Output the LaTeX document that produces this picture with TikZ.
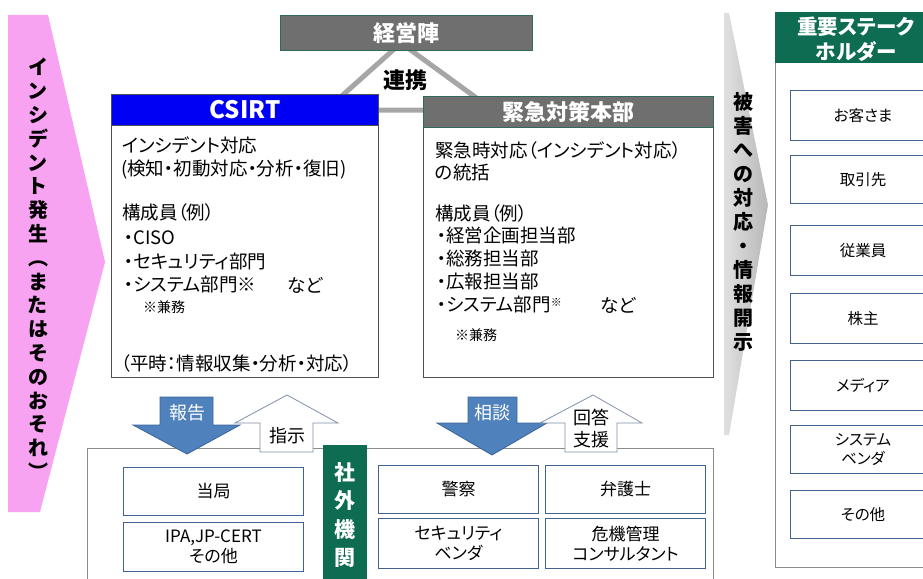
\documentclass[tikz,border=0pt]{standalone}
\usepackage{fontspec}
\setmainfont{Noto Sans CJK JP}[RawFeature=+palt]
\definecolor{pinkfill}{HTML}{F8A2F2}
\definecolor{linkgray}{HTML}{A6A6A6}
\definecolor{mgmtgray}{HTML}{6F6F6F}
\definecolor{tealborder}{HTML}{2E6B5E}
\definecolor{csirtblue}{HTML}{0000F5}
\definecolor{darkgreen}{HTML}{0D6C52}
\definecolor{boxblue}{HTML}{42628F}
\definecolor{arrowblue}{HTML}{4F81BD}
\definecolor{arrowedge}{HTML}{3A6499}
\definecolor{upedge}{HTML}{7F8FA6}
\definecolor{framegray}{HTML}{8C8C8C}
\definecolor{bodyedge}{HTML}{505050}
\begin{document}
\begin{tikzpicture}[x=1pt,y=-1pt,
  hdr/.style={font=\bfseries\fontsize{22}{25}\selectfont, text=white, inner sep=0pt, align=center},
  bodytxt/.style={font=\fontsize{18.5}{22}\selectfont, anchor=west, inner sep=0pt},
  notetxt/.style={font=\fontsize{14}{16}\selectfont, anchor=west, inner sep=0pt},
  sbox/.style={draw=boxblue, line width=1pt, fill=white, anchor=north west, inner sep=0pt, align=center, font=\fontsize{17}{20}\selectfont},
  stbox/.style={sbox, font=\fontsize{15.5}{19}\selectfont},
  vtext/.style={align=center, inner sep=0pt},
  bigbox/.style={draw=bodyedge, line width=1pt, fill=white, anchor=north west, inner sep=0pt},
  downarrow/.style={fill=arrowblue, draw=arrowedge, line width=0.8pt},
  uparrow/.style={fill=white, draw=upedge, line width=0.8pt},
  linkline/.style={draw=linkgray, line width=5pt},
  arrowtxt/.style={font=\fontsize{18}{22}\selectfont, inner sep=0pt, align=center},
]
\useasboundingbox (0,0) rectangle (923,578);
\clip (0,0) rectangle (923,578);

% pink incident arrow
\fill[pinkfill] (8,15) -- (48,15) -- (105,262) -- (40,512) -- (8,512) -- cycle;
\node[vtext, font=\bfseries\fontsize{20}{23.8}\selectfont] (incident) at (38,269)
  {イ\\ン\\シ\\デ\\ン\\ト\\発\\生\\︵\\ま\\た\\は\\そ\\の\\お\\そ\\れ\\︶};

% gray disclosure arrow
\shade[left color=black!12, right color=black!28] (724,13) -- (729,13) -- (768,205) -- (729,435) -- (724,435) -- cycle;
\node[vtext, font=\bfseries\fontsize{20}{24}\selectfont] (disclose) at (743,222)
  {被\\害\\へ\\の\\対\\応\\・\\情\\報\\開\\示};

% link triangle
\coordinate (apex) at (401,43);
\coordinate (baseL) at (326,110);
\coordinate (baseR) at (493,110);
\draw[linkline] (apex) -- (baseL) -- (baseR) -- cycle;

% management
\node[draw=tealborder, fill=mgmtgray, line width=1pt, minimum width=252, minimum height=35, anchor=north west, hdr] (mgmt) at (280,15) {経営陣};
\node[font=\bfseries\fontsize{22}{24}\selectfont, inner sep=0pt] (renkei) at (405,80) {連携};

% CSIRT
\node[bigbox, minimum width=267, minimum height=252] (csirtb) at (111,125) {};
\node[draw=bodyedge, line width=1pt, fill=csirtblue, minimum width=267, minimum height=31, anchor=north west, hdr, font=\bfseries\fontsize{24}{25}\selectfont] (csirth) at (111,94) {CSIRT};
\node[bodytxt] (c1) at (122,145) {インシデント対応};
\node[bodytxt] (c2) at (121,170) {(検知・初動対応・分析・復旧)};
\node[bodytxt] (c3) at (122,212) {構成員（例）};
\node[bodytxt] (c4) at (124,238) {・CISO};
\node[bodytxt] (c5) at (124,262) {・セキュリティ部門};
\node[bodytxt] (c6) at (124,285) {・システム部門※};
\node[bodytxt] (c6b) at (287,285) {など};
\node[notetxt] (c7) at (143,307) {※兼務};
\node[bodytxt] (c8) at (121,363) {（平時：情報収集・分析・対応）};

% Emergency HQ
\node[bigbox, minimum width=290, minimum height=250] (kinb) at (423,127) {};
\node[draw=tealborder, line width=1pt, fill=mgmtgray, minimum width=290, minimum height=31, anchor=north west, hdr] (kinh) at (423,96) {緊急対策本部};
\node[bodytxt] (k1) at (435,150) {緊急時対応（インシデント対応）};
\node[bodytxt] (k2) at (435,173) {の統括};
\node[bodytxt] (k3) at (435,213) {構成員（例）};
\node[bodytxt] (k4) at (437,235) {・経営企画担当部};
\node[bodytxt] (k5) at (437,258) {・総務担当部};
\node[bodytxt] (k6) at (437,282) {・広報担当部};
\node[bodytxt] (k7) at (437,305) {・システム部門\raisebox{5pt}{\fontsize{11}{11}\selectfont ※}};
\node[bodytxt] (k7b) at (600,305) {など};
\node[notetxt] (k8) at (455,335) {※兼務};

% external organisations frame
\node[draw=framegray, line width=1pt, fill=white, minimum width=626, minimum height=150, anchor=north west, inner sep=0pt] (extframe) at (87,448) {};
\node[fill=darkgreen, minimum width=44, minimum height=140, anchor=north west, vtext, text=white, font=\bfseries\fontsize{21}{28.5}\selectfont] (shagai) at (323,445) {社\\外\\機\\関};
\node[sbox, minimum width=180, minimum height=48] (tokyoku) at (123,467) {当局};
\node[sbox, minimum width=180, minimum height=49] (ipa) at (123,522) {IPA,JP-CERT\\その他};
\node[sbox, minimum width=160, minimum height=48] (keisatsu) at (378,465) {警察};
\node[sbox, minimum width=160, minimum height=48] (bengoshi) at (545,465) {弁護士};
\node[sbox, minimum width=160, minimum height=50] (secvendor) at (378,518) {セキュリティ\\ベンダ};
\node[sbox, minimum width=160, minimum height=50] (kiki) at (545,518) {危機管理\\コンサルタント};

% block arrows
\draw[downarrow] (160,397) -- (213,397) -- (213,425) -- (240,425) -- (187,454) -- (133,425) -- (160,425) -- cycle;
\draw[uparrow] (287,395) -- (338,423) -- (313,423) -- (313,452) -- (260,452) -- (260,423) -- (235,423) -- cycle;
\draw[downarrow] (468,397) -- (517,397) -- (517,423) -- (547,423) -- (492,455) -- (437,423) -- (468,423) -- cycle;
\draw[uparrow] (593,395) -- (642,423) -- (617,423) -- (617,452) -- (565,452) -- (565,423) -- (540,423) -- cycle;
\node[arrowtxt, text=white] (hokoku) at (187,413) {報告};
\node[arrowtxt] (shiji) at (287,436) {指示};
\node[arrowtxt, text=white] (sodan) at (492,413) {相談};
\node[arrowtxt] (kaito) at (591,429) {回答\\支援};

% stakeholders
\node[draw=framegray, line width=1pt, fill=white, minimum width=170, minimum height=555, anchor=north west, inner sep=0pt] (shpanel) at (775,12) {};
\node[fill=darkgreen, minimum width=170, minimum height=51, anchor=north west] (shhead) at (775,12) {};
\node[hdr, font=\bfseries\fontsize{20.5}{25}\selectfont] (shtitle) at (856,39) {重要ステーク\\ホルダー};
\node[stbox, minimum width=145, minimum height=50] (kyaku) at (790,90) {お客さま};
\node[stbox, minimum width=145, minimum height=48] (torihiki) at (790,155) {取引先};
\node[stbox, minimum width=145, minimum height=50] (jugyoin) at (790,225) {従業員};
\node[stbox, minimum width=145, minimum height=50] (kabunushi) at (790,293) {株主};
\node[stbox, minimum width=145, minimum height=50] (media) at (790,360) {メディア};
\node[stbox, minimum width=145, minimum height=48] (sysvendor) at (790,425) {システム\\ベンダ};
\node[stbox, minimum width=145, minimum height=48] (sonota) at (790,490) {その他};
\end{tikzpicture}
\end{document}
